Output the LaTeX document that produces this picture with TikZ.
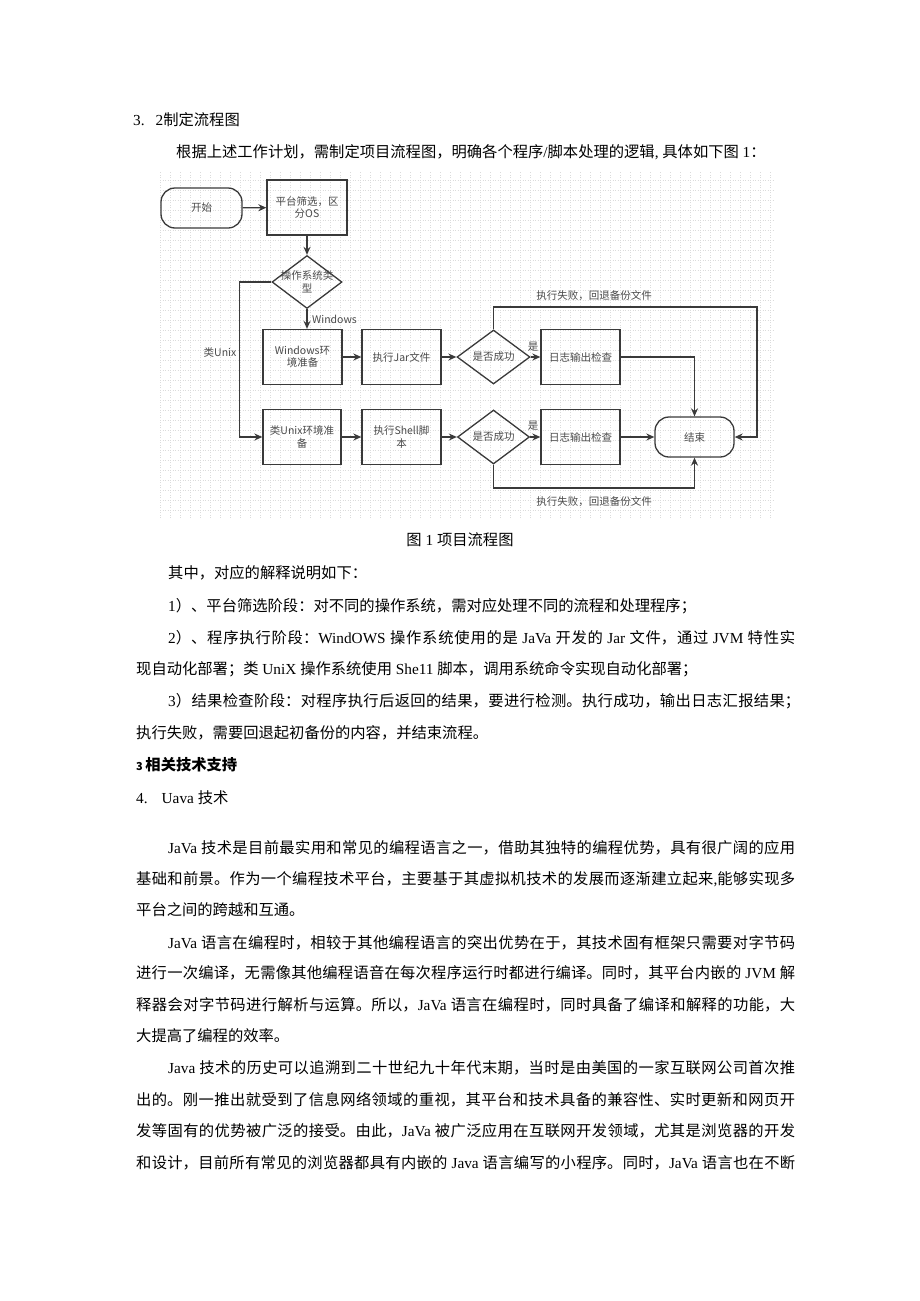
\documentclass[tikz,border=0pt]{standalone}
\usepackage{fontspec}
\setmainfont{Noto Sans CJK SC}
\newfontfamily\en{Liberation Serif}
\usetikzlibrary{shapes.geometric,arrows.meta}
\XeTeXlinebreaklocale "zh"
\XeTeXlinebreakskip=0pt plus 3pt minus 0.3pt
\definecolor{ln}{HTML}{3A3A3A}
\definecolor{tx}{HTML}{4A4A4A}
\newcommand\latn[1]{{\en #1}}
\newcommand\bodyfont{\fontsize{15.3}{18}\selectfont}
\newcommand\flfont{\fontsize{10.5}{12.5}\selectfont}
\newcommand\jl[4]{\node[anchor=west,inner sep=0pt] (#1) at (#2) {\parbox{#3pt}{\bodyfont\tolerance=10000\parfillskip=0pt\relax #4}};}
\begin{document}
\begin{tikzpicture}[x=1pt,y=-1pt,
  box/.style={draw=ln, line width=1.3pt, minimum width=79pt, minimum height=55pt, inner sep=1pt, align=center, font=\flfont, text=tx},
  term/.style={box, rounded corners=14pt, minimum width=81pt, minimum height=40pt},
  dia/.style={draw=ln, line width=1.3pt, diamond, inner sep=0pt},
  lbl/.style={font=\flfont, text=tx, inner sep=0pt, align=center},
  arr/.style={draw=ln, line width=1.3pt, -{Stealth[length=8pt,width=7pt]}},
  body/.style={anchor=west, inner sep=0pt, font=\bodyfont}]
\useasboundingbox (0,0) rectangle (920,1301);
\fill[white] (0,0) rectangle (920,1301);
% grid background
\draw[gray!28, line width=0.4pt, dash pattern=on 1pt off 1.5pt, xstep=10pt, ystep=10pt] (160,172) grid (775,518);

% flowchart nodes
\node[term] (start) at (201.5,208) {开始};
\node[box, minimum width=80pt] (plat) at (307,207.5) {平台筛选，区\\分OS};
\node[dia, minimum width=70pt, minimum height=53pt] (os) at (307,282) {};
\node[lbl] (ost) at (os) {操作系统类\\型};
\node[box] (win) at (302.5,357) {Windows环\\境准备};
\node[box] (jar) at (401.5,357) {执行Jar文件};
\node[dia, minimum width=73pt, minimum height=54pt] (d1) at (493.5,357) {};
\node[lbl] (d1t) at (d1) {是否成功};
\node[box] (log1) at (580.5,357) {日志输出检查};
\node[box, minimum width=78pt] (unix) at (302,437) {类Unix环境准\\备};
\node[box] (shell) at (401.5,437) {执行Shell脚\\本};
\node[dia, minimum width=72pt, minimum height=54pt] (d2) at (493.5,437) {};
\node[lbl] (d2t) at (d2) {是否成功};
\node[box] (log2) at (580.5,437) {日志输出检查};
\node[term, minimum width=79pt] (end) at (694.5,437) {结束};

% labels
\node[lbl, anchor=west] (wl) at (312,319) {Windows};
\node[lbl] (ul) at (220,353) {类Unix};
\node[lbl] (y1) at (533,347) {是};
\node[lbl] (y2) at (533,426) {是};
\node[lbl] (f1) at (594,296) {执行失败，回退备份文件};
\node[lbl] (f2) at (594,502) {执行失败，回退备份文件};
\coordinate (tr) at (757,307);
\coordinate (br) at (694.5,488);

% connectors
\draw[arr] (start) -- (plat);
\draw[arr] (plat.south) -- (plat.south |- os.north);
\draw[arr] (os.south) -- (os.south |- win.north);
\draw[arr] (os.west) -- ++(-32,0) |- (unix.west);
\draw[arr] (win) -- (jar);
\draw[arr] (jar) -- (d1);
\draw[arr] (d1) -- (log1);
\draw[arr] (log1.east) -| (end.north);
\draw[arr] (d1.north) |- (tr) |- (end.east);
\draw[arr] (unix) -- (shell);
\draw[arr] (shell) -- (d2);
\draw[arr] (d2) -- (log2);
\draw[arr] (log2) -- (end);
\draw[arr] (d2.south) |- (br) -- (end.south);

% page text
\node[body] (t1) at (133,120) {\latn{3.}\hspace{11pt}\latn{2}制定流程图};
\node[body] (t2) at (176,152) {根据上述工作计划，需制定项目流程图，明确各个程序\latn{/}脚本处理的逻辑\latn{, }具体如下图\latn{ 1}：};
\node[body, anchor=center] (cap) at (460,540) {图\latn{ 1 }项目流程图};
\node[body] (t4) at (168,573) {其中，对应的解释说明如下：};
\node[body] (t5) at (168,606) {\latn{1}）、平台筛选阶段：对不同的操作系统，需对应处理不同的流程和处理程序；};
\jl{t6}{168,638}{627}{\latn{2}）、程序执行阶段：\latn{WindOWS }操作系统使用的是\latn{ JaVa }开发的\latn{ Jar }文件，通过\latn{ JVM }特性实}
\node[body] (t7) at (136,669) {现自动化部署；类\latn{ UniX }操作系统使用\latn{ She11 }脚本，调用系统命令实现自动化部署；};
\jl{t8}{168,701}{632}{\latn{3}）结果检查阶段：对程序执行后返回的结果，要进行检测。执行成功，输出日志汇报结果；}
\node[body] (t9) at (136,733) {执行失败，需要回退起初备份的内容，并结束流程。};
\node[body] (t10) at (136,765) {\bfseries{\fontsize{11}{11}\selectfont 3}\,相关技术支持};
\node[body] (t11) at (136,798) {\latn{4.}\hspace{14pt}\latn{Uava }技术};
\jl{t12}{168,848}{627}{\latn{JaVa }技术是目前最实用和常见的编程语言之一，借助其独特的编程优势，具有很广阔的应用}
\jl{t13}{136,879}{659}{基础和前景。作为一个编程技术平台，主要基于其虚拟机技术的发展而逐渐建立起来\latn{,}能够实现多}
\node[body] (t14) at (136,910) {平台之间的跨越和互通。};
\jl{t15}{168,943}{627}{\latn{JaVa }语言在编程时，相较于其他编程语言的突出优势在于，其技术固有框架只需要对字节码}
\jl{t16}{136,973}{659}{进行一次编译，无需像其他编程语音在每次程序运行时都进行编译。同时，其平台内嵌的\latn{ JVM }解}
\jl{t17}{136,1005}{659}{释器会对字节码进行解析与运算。所以，\latn{JaVa }语言在编程时，同时具备了编译和解释的功能，大}
\node[body] (t18) at (136,1036) {大提高了编程的效率。};
\jl{t19}{168,1068}{627}{\latn{Java }技术的历史可以追溯到二十世纪九十年代末期，当时是由美国的一家互联网公司首次推}
\jl{t20}{136,1100}{659}{出的。刚一推出就受到了信息网络领域的重视，其平台和技术具备的兼容性、实时更新和网页开}
\jl{t21}{136,1131}{659}{发等固有的优势被广泛的接受。由此，\latn{JaVa }被广泛应用在互联网开发领域，尤其是浏览器的开发}
\jl{t22}{136,1163}{659}{和设计，目前所有常见的浏览器都具有内嵌的\latn{ Java }语言编写的小程序。同时，\latn{JaVa }语言也在不断}
\end{tikzpicture}
\end{document}
